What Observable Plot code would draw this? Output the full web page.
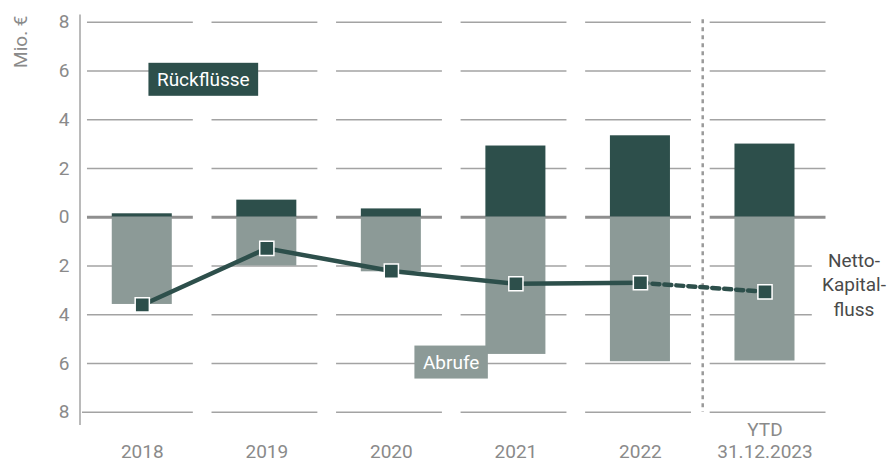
<!DOCTYPE html>
<html>
<head>
<meta charset="utf-8">
<script src="https://cdn.jsdelivr.net/npm/d3@7"></script>
<script src="https://cdn.jsdelivr.net/npm/@observablehq/plot@0.6"></script>
<style>
  html, body { margin: 0; padding: 0; background: #fff; }
  #chart { width: 891px; height: 461px; }
</style>
</head>
<body>
<div id="chart"></div>
<script>
// ---- data ----
const categories = ["2018", "2019", "2020", "2021", "2022", "YTD\n31.12.2023"];
const rueckfluesse = [0.14, 0.70, 0.34, 2.92, 3.34, 3.00];   // Mio. € (positive, up)
const abrufe       = [3.58, 2.00, 2.24, 5.63, 5.93, 5.90];   // Mio. € (drawn downward)
const netto        = [3.60, 1.28, 2.21, 2.73, 2.69, 3.06];   // Netto-Kapitalfluss (drawn downward)
const yTicks = [-8, -6, -4, -2, 0, 2, 4, 6, 8];
const seriesLabels = ["Rückflüsse", "Abrufe"];
const nettoLabel = "Netto-\nKapital-\nfluss";
const yLabel = "Mio. €";

// ---- colours ----
const DARK = "#2d4f4b";
const GRAY = "#8c9a97";
const GRID = "#a3a3a3";
const TEXT = "#8a8a8a";

const idx = categories.map((_, i) => i);
const bars = idx.flatMap(i => [
  {i, v: rueckfluesse[i], s: "R"},
  {i, v: -abrufe[i], s: "A"}
]);
const net = idx.map(i => ({i, v: -netto[i]}));

// grid segments per category (gaps between categories)
const grid = [];
for (const t of yTicks) {
  for (const i of idx) {
    let a = i - 0.5 + 0.06, b = i + 0.5 - 0.09;
    if (i === idx.length - 1) b = i + 0.49;
    if (i === idx.length - 1 && (t === -2 || t === -4)) b = i + 0.38;
    if (i === 0 && t === -8) a = i - 0.48;
    grid.push({t, a, b});
  }
}
const HALF = 0.241;

const chart = Plot.plot({
  width: 891,
  height: 461,
  marginLeft: 79.5,
  marginRight: 64.25,
  marginTop: 21.7,
  marginBottom: 49.3,
  style: {fontFamily: "Roboto, sans-serif", fontSize: "19px", background: "#fff"},
  x: {domain: [-0.5, 5.5], axis: null},
  y: {domain: [-8, 8], axis: null},
  marks: [
    // grid
    Plot.ruleY(grid.filter(d => d.t !== 0), {y: "t", x1: "a", x2: "b", stroke: GRID, strokeWidth: 1.5}),
    Plot.ruleY(grid.filter(d => d.t === 0), {y: "t", x1: "a", x2: "b", stroke: "#8f8f8f", strokeWidth: 3}),
    // y axis line
    Plot.ruleX([-0.5], {y1: 8.3, y2: -8.55, stroke: GRID, strokeWidth: 1.5}),
    // separator
    Plot.ruleX([4.5], {y1: 8.1, y2: -8, stroke: "#9a9a9a", strokeWidth: 2.5, strokeDasharray: "4,4"}),
    // bars
    Plot.rectY(bars, {x1: d => d.i - HALF, x2: d => d.i + HALF, y1: 0, y2: "v",
      fill: d => d.s === "R" ? DARK : GRAY}),
    // net line
    Plot.line(net.slice(0, 5), {x: "i", y: "v", stroke: DARK, strokeWidth: 4.5}),
    Plot.line(net.slice(4), {x: "i", y: "v", stroke: DARK, strokeWidth: 4.5, strokeDasharray: "7,5"}),
    Plot.dot(net, {x: "i", y: "v", symbol: "square", r: 8, fill: DARK, stroke: "#fff", strokeWidth: 1.5}),
    // y tick labels
    Plot.text(yTicks, {x: -0.5, y: d => d, text: d => String(Math.abs(d)), textAnchor: "end", dx: -10.5, fill: TEXT}),
    // x labels
    Plot.text(idx, {x: d => d, text: d => categories[d], frameAnchor: "bottom", lineAnchor: "bottom",
      lineHeight: 1.16, dy: 45.5, fill: TEXT}),
    // y label
    Plot.text([yLabel], {frameAnchor: "top-left", rotate: -90, textAnchor: "middle", lineAnchor: "middle",
      dx: -59.5, dy: 19.5, fill: TEXT}),
    // series labels (boxes added after render)
    Plot.text([seriesLabels[0]], {x: 0.49, y: 5.64, fill: "#fff", className: "lbl-dark"}),
    Plot.text([seriesLabels[1]], {x: 2.48, y: -5.96, fill: "#fff", className: "lbl-gray"}),
    // netto label
    Plot.text([nettoLabel], {x: 5, y: -netto[5], dx: 89, dy: -8.5, lineHeight: 1.3, fill: "#4a4a4a"})
  ]
});

document.getElementById("chart").append(chart);

// background boxes behind the series labels
const NS = "http://www.w3.org/2000/svg";
[["lbl-dark", DARK], ["lbl-gray", GRAY]].forEach(([cls, col]) => {
  chart.querySelectorAll(`g.${cls} text`).forEach(t => {
    const b = t.getBBox();
    const r = document.createElementNS(NS, "rect");
    const padX = 8.5, h = 33;
    r.setAttribute("x", b.x - padX);
    r.setAttribute("y", b.y + b.height / 2 - h / 2);
    r.setAttribute("width", b.width + 2 * padX);
    r.setAttribute("height", h);
    r.setAttribute("fill", col);
    if (t.getAttribute("transform")) r.setAttribute("transform", t.getAttribute("transform"));
    t.parentNode.insertBefore(r, t);
  });
});
</script>
</body>
</html>
